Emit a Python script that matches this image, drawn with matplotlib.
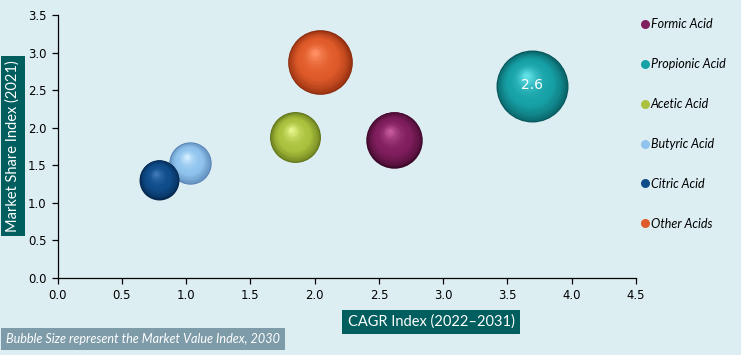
import numpy as np
import matplotlib.pyplot as plt
from matplotlib import transforms
from matplotlib.colors import to_rgb
from matplotlib.lines import Line2D

# data
acids = ["Formic Acid", "Propionic Acid", "Acetic Acid", "Butyric Acid", "Citric Acid", "Other Acids"]
cagr_index = [2.62, 3.69, 1.85, 1.03, 0.79, 2.04]
share_index = [1.84, 2.55, 1.87, 1.53, 1.31, 2.87]
value_index = [1.6, 2.6, 1.3, 0.9, 0.8, 2.1]

base_colors = ["#811f5e", "#17a2a8", "#aac23e", "#90c4ee", "#0f4d8a", "#e05b2a"]
dark_colors = ["#3c0829", "#07585c", "#607318", "#5581b2", "#05264d", "#8a2a0c"]
light_colors = ["#c2579a", "#5fe0e6", "#e6f58a", "#d2edff", "#3f78b4", "#ff8e62"]

bg = "#ddeef3"
teal = "#005e5e"
fnt = "Lato"


def mix(c1, c2, t):
    a, b = np.array(to_rgb(c1)), np.array(to_rgb(c2))
    return tuple(a + (b - a) * t)


fig = plt.figure(figsize=(7.41, 3.55), dpi=100, facecolor=bg)
ax = fig.add_axes([57.5 / 741, 1 - 278 / 355, 578.5 / 741, 263 / 355])
ax.set_facecolor(bg)
ax.set_xlim(0, 4.5)
ax.set_ylim(0, 3.5)
ax.set_xticks(np.arange(0, 4.51, 0.5))
ax.set_yticks(np.arange(0, 3.51, 0.5))
ax.xaxis.set_major_formatter(lambda v, p: f"{v:.1f}")
ax.yaxis.set_major_formatter(lambda v, p: f"{v:.1f}")
for side in ["top", "right"]:
    ax.spines[side].set_visible(False)
for side in ["left", "bottom"]:
    ax.spines[side].set_color("black")
    ax.spines[side].set_linewidth(0.9)
ax.tick_params(labelsize=8.4, length=4, width=0.9, colors="black", pad=4)

# 3d-looking bubbles: stacked circles shifted toward the highlight
k = 1033.0
n_layers = 30
for j in range(len(acids)):
    s = value_index[j] * k
    r_pt = np.sqrt(s) / 2
    for i in range(n_layers):
        t = i / (n_layers - 1)
        rk = r_pt * (1 - 0.92 * t)
        dx = -0.16 * r_pt * t
        dy = 0.3 * r_pt * t
        if t < 0.4:
            col = mix(dark_colors[j], base_colors[j], (t / 0.4) ** 0.6)
        else:
            col = mix(base_colors[j], light_colors[j], ((t - 0.4) / 0.6) ** 2.0)
        tr = transforms.offset_copy(ax.transData, fig=fig, x=dx, y=dy, units="points")
        ax.scatter(cagr_index[j], share_index[j], s=(2 * rk) ** 2, color=col,
                   transform=tr, linewidths=0, zorder=3 + j)

ax.text(cagr_index[1], share_index[1] + 0.02, "2.6", color="white", fontsize=10,
        ha="center", va="center", family="DejaVu Sans", zorder=20)

# legend
handles = [Line2D([], [], marker="o", ls="", markersize=6.5, markerfacecolor=c,
                  markeredgewidth=0) for c in base_colors]
fig.legend(handles, acids, loc="upper left", bbox_to_anchor=(627 / 741, 1 - 7 / 355),
           frameon=False, labelspacing=2.23, handletextpad=0.0, handlelength=1.0,
           prop={"family": fnt, "style": "italic", "size": 9})

# axis titles in boxes
ax.set_xlabel("CAGR Index (2022\u20132031)", color="white", fontsize=10.5, family=fnt,
              bbox=dict(boxstyle="square,pad=0.35", fc=teal, ec="none"))
ax.xaxis.set_label_coords((431 - 57.5) / 578.5, -(322 - 278) / 263)
ax.xaxis.label.set_va("center")
ax.set_ylabel("Market Share Index (2021)", color="white", fontsize=10.5, family=fnt,
              bbox=dict(boxstyle="square,pad=0.3", fc=teal, ec="none"))
ax.yaxis.set_label_coords(-(57.5 - 13) / 578.5, (278 - 146) / 263)
ax.yaxis.label.set_va("center")

fig.text(6 / 741, 1 - 339 / 355, "Bubble Size represent the Market Value Index, 2030",
         color="white", fontsize=9.1, family=fnt, style="italic", va="center",
         bbox=dict(boxstyle="square,pad=0.4", fc="#7d9ba8", ec="none"))

fig.savefig("out.png", dpi=100, facecolor=bg)
